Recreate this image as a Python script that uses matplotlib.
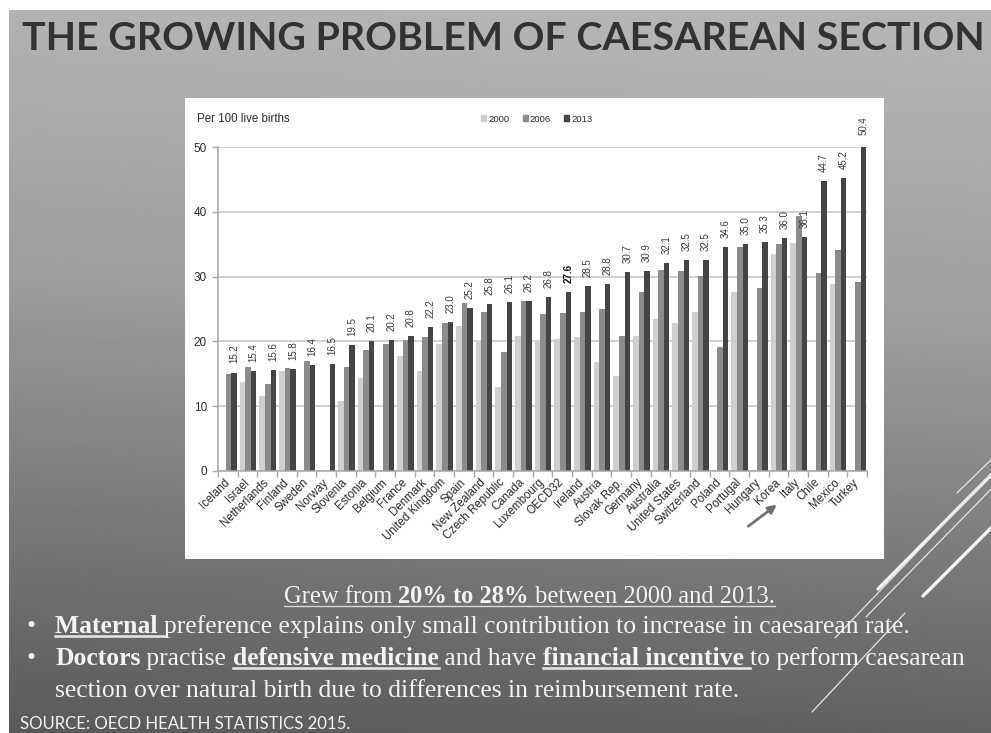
import numpy as np
import matplotlib.pyplot as plt
from matplotlib.patches import Rectangle
from matplotlib.lines import Line2D

# Caesarean section rates per 100 live births, OECD Health Statistics 2015
countries = ["Iceland", "Israel", "Netherlands", "Finland", "Sweden", "Norway",
             "Slovenia", "Estonia", "Belgium", "France", "Denmark", "United Kingdom",
             "Spain", "New Zealand", "Czech Republic", "Canada", "Luxembourg", "OECD32",
             "Ireland", "Austria", "Slovak Rep.", "Germany", "Australia", "United States",
             "Switzerland", "Poland", "Portugal", "Hungary", "Korea", "Italy", "Chile",
             "Mexico", "Turkey"]
rate_2000 = [None, 13.7, 11.6, 15.5, None, None, 10.8, 14.3, None, 17.8, 15.5, 19.6,
             22.4, 20.2, 12.9, 20.9, 20.0, 20.3, 20.7, 16.8, 14.7, 20.8, 23.5, 22.9,
             24.5, None, 27.6, None, 33.5, 35.2, None, 28.8, None]
rate_2006 = [14.9, 16.1, 13.5, 15.9, 17.0, None, 16.1, 18.6, 19.6, 20.2, 20.7, 22.8,
             25.9, 24.5, 18.4, 26.2, 24.2, 24.4, 24.5, 25.0, 20.8, 27.7, 31.0, 30.9,
             30.1, 19.2, 34.6, 28.2, 35.1, 39.4, 30.5, 34.1, 29.2]
rate_2013 = [15.2, 15.4, 15.6, 15.8, 16.4, 16.5, 19.5, 20.1, 20.2, 20.8, 22.2, 23.0,
             25.2, 25.8, 26.1, 26.2, 26.8, 27.6, 28.5, 28.8, 30.7, 30.9, 32.1, 32.5,
             32.5, 34.6, 35.0, 35.3, 36.0, 36.1, 44.7, 45.2, 50.4]
years = ["2000", "2006", "2013"]
y_ticks = [0, 10, 20, 30, 40, 50]
highlight = "OECD32"

title = "THE GROWING PROBLEM OF CAESAREAN SECTION"
source = "SOURCE: OECD HEALTH STATISTICS 2015."
# (text, bold, underlined)
headline = [("Grew from ", False, True), ("20% to 28%", True, True),
            (" between 2000 and 2013.", False, True)]
bullet_1 = [("Maternal ", True, True),
            ("preference explains only small contribution to increase in caesarean rate.", False, False)]
bullet_2 = [("Doctors", True, False), (" practise ", False, False),
            ("defensive medicine", True, True), (" and have ", False, False),
            ("financial incentive ", True, True), ("to perform caesarean", False, False)]
bullet_2b = [("section over natural birth due to differences in reimbursement rate.", False, False)]

bar_colors = ["#cfcfcf", "#8b8b8b", "#454545"]
W, H = 991, 733

fig = plt.figure(figsize=(W / 100, H / 100), dpi=100)
fig.patch.set_facecolor("white")

# full-figure axes in pixel units for the slide itself
bg = fig.add_axes([0, 0, 1, 1])
yy, xx = np.mgrid[0:1:300j, 0:1:300j]
shade = np.interp(yy + 0.08 * (0.5 - xx), [0, 0.4, 0.75, 1.05],
                  [0.71, 0.62, 0.47, 0.35])
bg.imshow(shade, extent=(9, W, H, 10), cmap="gray", vmin=0, vmax=1,
          aspect="auto", interpolation="bilinear")
bg.set_xlim(0, W)
bg.set_ylim(H, 0)
bg.axis("off")

# chart panel
bg.add_patch(Rectangle((185, 98), 699, 461, facecolor="white", edgecolor="none", zorder=1))

# decorative strokes, lower right
for (x0, y0, x1, y1, lw, c) in [(878, 589, 1000, 466, 2.4, "#f4f4f4"),
                                (923, 596, 1000, 519, 2.4, "#f4f4f4"),
                                (835, 638, 1000, 465, 0.9, "#e6e6e6"),
                                (866, 617, 1000, 480, 0.9, "#e6e6e6"),
                                (957, 493, 1000, 451, 0.9, "#e6e6e6"),
                                (812, 712, 905, 613, 0.9, "#e6e6e6")]:
    bg.add_line(Line2D([x0, x1], [y0, y1], lw=lw, color=c, solid_capstyle="round", zorder=2))

renderer = fig.canvas.get_renderer()


def run_width(s, **kw):
    # measure with bars on both sides so leading/trailing spaces count
    a = bg.text(0, 0, "|" + s + "|", **kw)
    b = bg.text(0, 0, "||", **kw)
    w = a.get_window_extent(renderer).width - b.get_window_extent(renderer).width
    a.remove()
    b.remove()
    return w


def line_width(runs, size, family):
    return sum(run_width(t, fontsize=size, family=family, weight="bold" if bo else "normal")
               for t, bo, _ in runs)


def draw_runs(x, y, runs, size, family, color="#f3f3f3", ul_color="#e8e8e8", ul_lw=1.2):
    cx = x
    for t, bo, ul in runs:
        kw = dict(fontsize=size, family=family, weight="bold" if bo else "normal")
        w = run_width(t, **kw)
        bg.text(cx, y, t, color=color, va="baseline", ha="left", zorder=3, **kw)
        if ul:
            bg.plot([cx, cx + w], [y + 3, y + 3], color=ul_color, lw=ul_lw, zorder=3)
        cx += w


# title across the top of the slide
tfam, tw = "Lato", "bold"
tsize = 30 * 962 / run_width(title, fontsize=30, family=tfam, weight=tw)
bg.text(22, 50, title, fontsize=tsize, family=tfam, weight=tw, color="#323232",
        va="baseline", ha="left", zorder=3)

serif = "Liberation Serif"
hsize = 16 * 492 / line_width(headline, 16, serif)
draw_runs(284, 603, headline, hsize, serif, ul_color="#d8d8d8", ul_lw=1.0)

bsize = 16 * 910 / line_width(bullet_2, 16, serif)
for yb in (633, 665):
    bg.text(27, yb, "\u2022", fontsize=bsize, family=serif, color="#f3f3f3",
            va="baseline", zorder=3)
draw_runs(55, 633, bullet_1, bsize, serif, ul_lw=1.8)
draw_runs(55, 665, bullet_2, bsize, serif, ul_lw=1.8)
draw_runs(55, 697, bullet_2b, bsize, serif)

ssize = 11 * 332 / run_width(source, fontsize=11, family="Lato", weight="normal")
bg.text(20, 729, source, fontsize=ssize, family="Lato", weight="normal", color="#f2f2f2",
        va="baseline", ha="left", zorder=3)

# bar chart
sans = "Liberation Sans"
ax = fig.add_axes([218 / W, 1 - 471 / H, 649 / W, 324 / H], zorder=2)
ax.set_facecolor("none")
n = len(countries)
x = np.arange(n) + 0.5
bw = 0.285
for k, (vals, col) in enumerate(zip([rate_2000, rate_2006, rate_2013], bar_colors)):
    idx = [i for i, v in enumerate(vals) if v is not None]
    ax.bar(x[idx] + (k - 1) * bw + 0.03, [vals[i] for i in idx], width=bw,
           color=col, edgecolor="none", zorder=2)

for i, v in enumerate(rate_2013):
    bold = countries[i] == highlight
    ax.annotate(f"{v:.1f}", (x[i] + bw + 0.03, v), xytext=(0, 6.5), textcoords="offset points",
                rotation=90, ha="center", va="bottom", fontsize=7, family=sans,
                weight="bold" if bold else "normal",
                color="#111111" if bold else "#3a3a3a", annotation_clip=False)

ax.set_xlim(0, n)
ax.set_ylim(0, 50)
ax.set_yticks(y_ticks)
ax.set_xticks(x)
ax.set_xticklabels(countries, rotation=45, ha="right", va="center",
                   rotation_mode="anchor", fontsize=8.3, family=sans, color="#2a2a2a")
ax.set_xticks(np.arange(n + 1), minor=True)
ax.tick_params(axis="x", which="major", length=0, pad=7)
ax.tick_params(axis="x", which="minor", length=4, color="#a6a6a6", width=1)
ax.tick_params(axis="y", length=4, color="#a6a6a6", width=1, pad=4,
               labelsize=8.5, labelcolor="#2a2a2a")
for lab in ax.get_yticklabels():
    lab.set_family(sans)
ax.yaxis.grid(True, color="#c4c4c4", lw=1.1)
ax.set_axisbelow(True)
for side in ("top", "right"):
    ax.spines[side].set_visible(False)
for side in ("left", "bottom"):
    ax.spines[side].set_color("#a6a6a6")
    ax.spines[side].set_linewidth(1.1)

bg.text(197, 119, "Per 100 live births", fontsize=8.3, family=sans, color="#2a2a2a",
        va="center", ha="left", zorder=3)
handles = [Rectangle((0, 0), 1, 1, color=c) for c in bar_colors]
fig.legend(handles, years, loc="center", bbox_to_anchor=(537 / W, 1 - 119 / H), ncol=3,
           frameon=False, prop={"family": sans, "size": 6.8}, handlelength=0.5,
           handleheight=0.5, handletextpad=0.25, columnspacing=1.4, labelcolor="#2a2a2a")

# arrow pointing up towards Korea
bg.annotate("", xy=(779, 503), xytext=(746, 528),
            arrowprops=dict(arrowstyle="-|>", color="#707070", lw=2, mutation_scale=12),
            zorder=4)

fig.savefig("out.png", dpi=100)
